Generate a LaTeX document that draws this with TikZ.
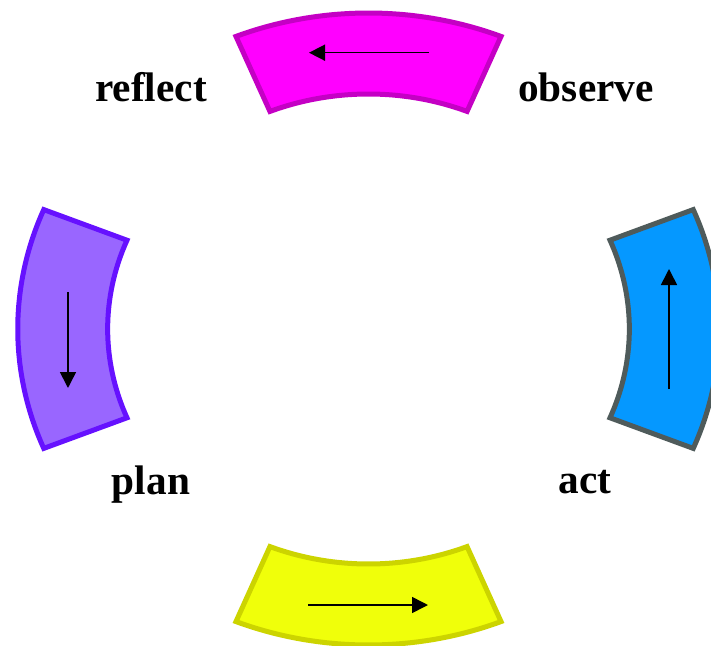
\documentclass[tikz,border=0pt]{standalone}
\usepackage{fontspec}
\setmainfont{Liberation Serif}
\usetikzlibrary{arrows.meta}
\begin{document}
\begin{tikzpicture}[x=1pt, y=1pt]
% Four step cycle: sectors of one ring, an arrow in each
\def\rin{235}
\def\rout{316}
\def\half{22.2}
\providecommand{\cycleLineWidth}{5pt}
\providecommand{\cycleArrowWidth}{1.6pt}
\providecommand{\cycleLabelSize}{41.3}
\tikzset{
  steplabel/.style={font=\fontsize{\cycleLabelSize}{48}\selectfont\bfseries, anchor=base, inner sep=0pt},
  steparrow/.style={line width=\cycleArrowWidth, -{Triangle[length=16pt, width=16pt]}}
}
\useasboundingbox (-368.5,-316) rectangle (342.5,329);
\clip (-368.5,-316) rectangle (342.5,329);
\begin{scope}[xscale=1.11, line join=miter, line width=\cycleLineWidth]
  % Top sector
  \filldraw[fill={rgb,255:red,255;green,0;blue,255}, draw={rgb,255:red,196;green,0;blue,196}]
    (90-\half:\rout) arc[start angle=90-\half, end angle=90+\half, radius=\rout]
    -- (90+\half:\rin) arc[start angle=90+\half, end angle=90-\half, radius=\rin] -- cycle;
  % Left sector
  \filldraw[fill={rgb,255:red,153;green,102;blue,255}, draw={rgb,255:red,102;green,17;blue,255}]
    (180-\half:\rout) arc[start angle=180-\half, end angle=180+\half, radius=\rout]
    -- (180+\half:\rin) arc[start angle=180+\half, end angle=180-\half, radius=\rin] -- cycle;
  % Bottom sector
  \filldraw[fill={rgb,255:red,240;green,255;blue,10}, draw={rgb,255:red,204;green,212;blue,0}]
    (270-\half:\rout) arc[start angle=270-\half, end angle=270+\half, radius=\rout]
    -- (270+\half:\rin) arc[start angle=270+\half, end angle=270-\half, radius=\rin] -- cycle;
  % Right sector
  \filldraw[fill={rgb,255:red,5;green,152;blue,255}, draw={rgb,255:red,79;green,91;blue,91}]
    (-\half:\rout) arc[start angle=-\half, end angle=\half, radius=\rout]
    -- (\half:\rin) arc[start angle=\half, end angle=-\half, radius=\rin] -- cycle;
\end{scope}
% Arrow ends
\coordinate (observe-a) at (60.5,276.3);
\coordinate (observe-b) at (-59.5,276.3);
\coordinate (reflect-a) at (-300.5,37);
\coordinate (reflect-b) at (-300.5,-59);
\coordinate (plan-a) at (-60.5,-276);
\coordinate (plan-b) at (59.5,-276);
\coordinate (act-a) at (300.5,-60);
\coordinate (act-b) at (300.5,60);
\draw[steparrow] (observe-a) -- (observe-b);
\draw[steparrow] (reflect-a) -- (reflect-b);
\draw[steparrow] (plan-a) -- (plan-b);
\draw[steparrow] (act-a) -- (act-b);
% Labels
\node[steplabel] (reflect) at (-217.5,227) {reflect};
\node[steplabel] (observe) at (217.5,227) {observe};
\node[steplabel] (plan) at (-217.5,-165) {plan};
\node[steplabel] (act) at (216.5,-164) {act};
\end{tikzpicture}
\end{document}
